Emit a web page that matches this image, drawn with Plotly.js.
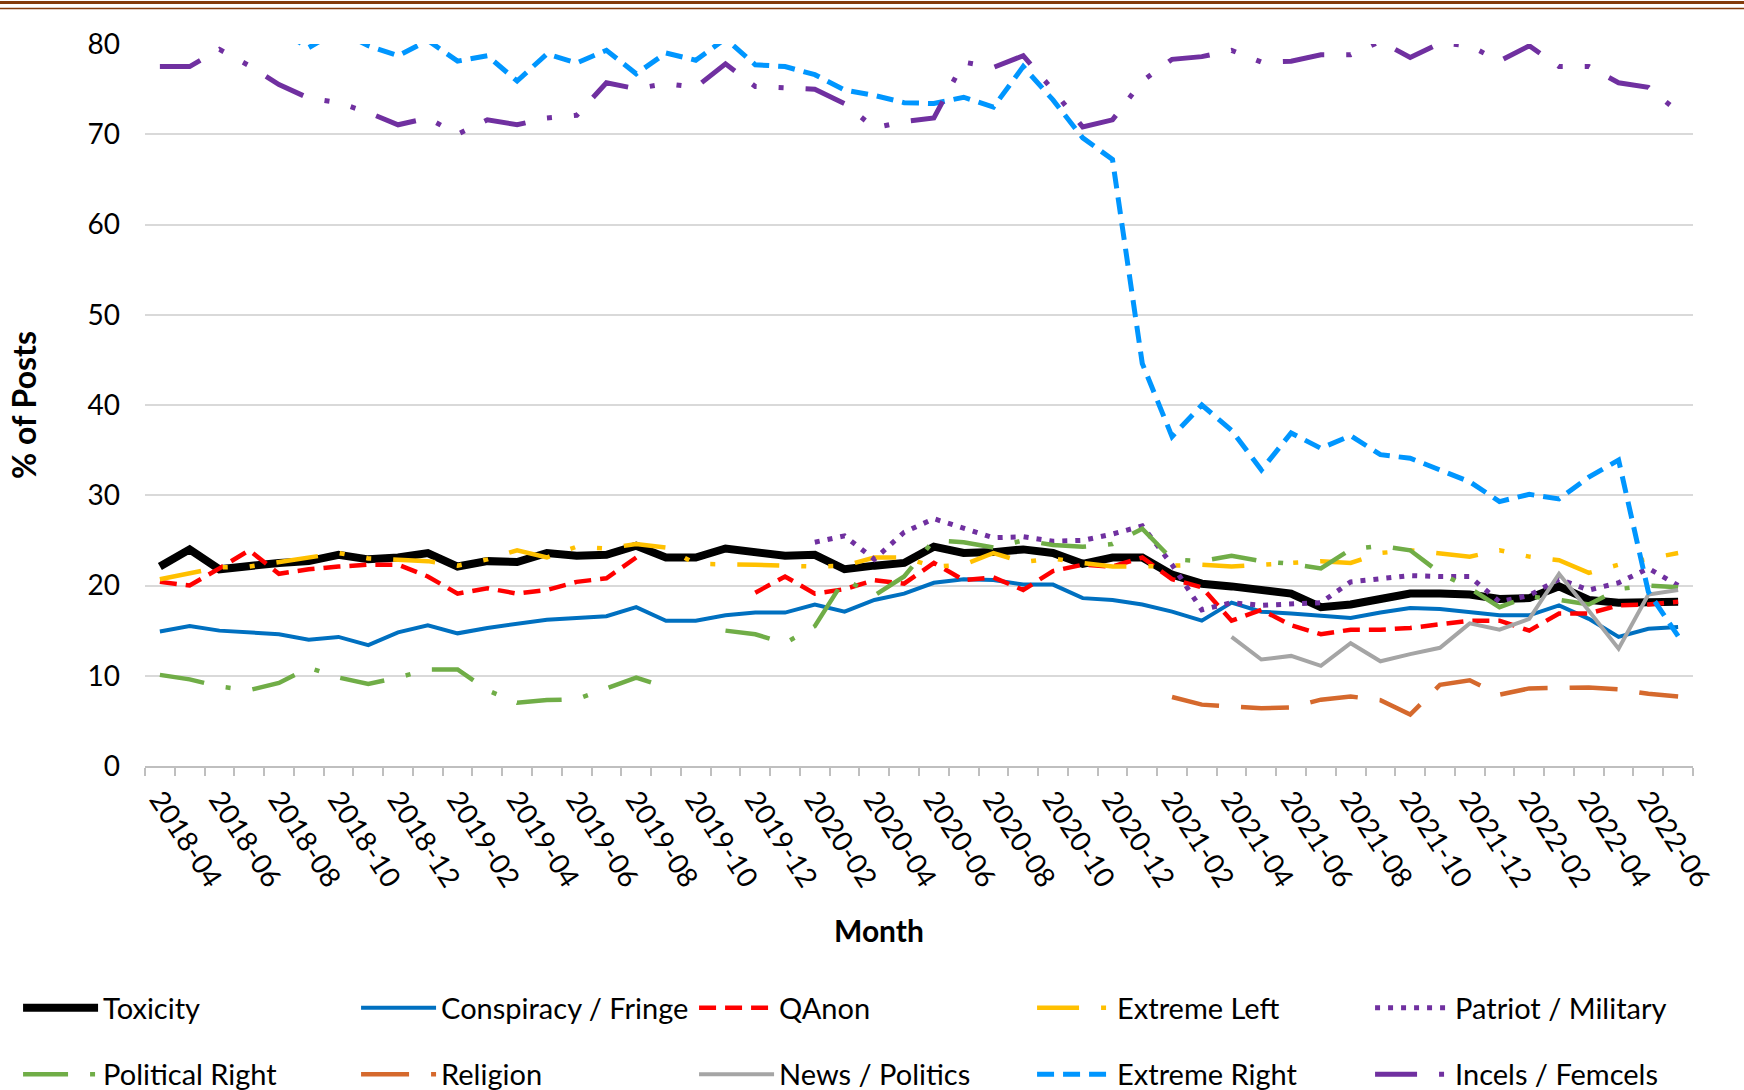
<!DOCTYPE html>
<html>
<head>
<meta charset="utf-8">
<script src="https://cdn.plot.ly/plotly-3.0.1.min.js"></script>
<style>html,body{margin:0;padding:0;background:#fff;}</style>
</head>
<body>
<div id="chart" style="width:1744px;height:1090px"></div>
<script>
// monthly categories, 2018-04 .. 2022-07
const months = [
  '2018-04','2018-05','2018-06','2018-07','2018-08','2018-09','2018-10','2018-11','2018-12',
  '2019-01','2019-02','2019-03','2019-04','2019-05','2019-06','2019-07','2019-08','2019-09','2019-10','2019-11','2019-12',
  '2020-01','2020-02','2020-03','2020-04','2020-05','2020-06','2020-07','2020-08','2020-09','2020-10','2020-11','2020-12',
  '2021-01','2021-02','2021-03','2021-04','2021-05','2021-06','2021-07','2021-08','2021-09','2021-10','2021-11','2021-12',
  '2022-01','2022-02','2022-03','2022-04','2022-05','2022-06','2022-07'
];

// labels shown on the x axis (every second month)
const tickLabels = [
  '2018-04','2018-06','2018-08','2018-10','2018-12','2019-02','2019-04','2019-06','2019-08','2019-10','2019-12',
  '2020-02','2020-04','2020-06','2020-08','2020-10','2020-12','2021-02','2021-04','2021-06','2021-08','2021-10','2021-12',
  '2022-02','2022-04','2022-06'
];

// % of posts per month
const toxicity = [22.1,24.0,21.8,22.2,22.5,22.7,23.4,22.9,23.1,23.6,22.1,22.7,22.6,23.6,23.3,23.4,24.4,23.1,23.1,24.1,
  23.7,23.3,23.4,21.8,22.2,22.5,24.3,23.6,23.7,24.0,23.6,22.4,23.1,23.1,21.2,20.2,19.9,19.6,19.1,17.6,
  17.9,18.5,19.1,19.1,19.0,18.5,18.6,19.9,18.4,18.1,18.2,18.2];

const conspiracy = [14.9,15.5,15.0,14.8,14.6,14.0,14.3,13.4,14.8,15.6,14.7,15.3,15.8,16.2,16.4,16.6,17.6,16.1,16.1,16.7,
  17.0,17.0,17.9,17.1,18.4,19.1,20.3,20.7,20.6,20.1,20.1,18.6,18.4,17.9,17.1,16.1,18.1,17.1,16.9,16.7,
  16.4,17.0,17.5,17.4,17.0,16.7,16.7,17.8,16.3,14.3,15.2,15.4];

const qanon = [20.4,20.0,21.9,23.9,21.3,21.8,22.1,22.3,22.3,21.0,19.1,19.7,19.1,19.5,20.4,20.8,23.1,null,null,null,
  19.2,21.0,19.1,19.6,20.6,20.2,22.5,20.6,20.9,19.5,21.6,22.3,22.1,23.1,20.7,19.8,16.1,17.3,15.6,14.6,
  15.1,15.1,15.3,15.7,16.1,16.1,15.0,16.9,16.9,17.8,17.9,18.2];

const extremeLeft = [20.7,21.3,22.0,22.1,22.6,23.1,23.6,23.0,22.9,22.7,22.2,22.9,23.9,23.1,24.3,24.1,24.6,24.2,22.4,22.4,
  22.3,22.2,22.1,22.2,23.1,23.1,22.1,22.3,23.6,22.6,23.0,22.5,22.1,22.1,22.2,22.3,22.1,22.3,22.6,22.7,
  22.5,23.6,23.9,23.6,23.2,23.9,23.2,22.8,21.4,22.3,23.0,23.6];

const patriot = [null,null,null,null,null,null,null,null,null,null,null,null,null,null,null,null,null,null,null,null,
  null,null,24.8,25.5,22.9,25.9,27.4,26.4,25.3,25.4,24.9,25.0,25.7,26.6,22.3,17.3,18.1,17.8,17.9,18.1,
  20.4,20.8,21.1,21.0,21.0,18.2,18.9,20.7,19.5,20.3,21.9,20.0];

const politicalRight = [10.1,9.6,8.8,8.4,9.2,10.9,9.8,9.1,9.8,10.7,10.7,8.4,7.0,7.3,7.4,8.6,9.8,8.7,null,15.0,
  14.6,13.6,15.5,20.7,18.9,21.0,25.0,24.8,24.2,25.0,24.5,24.3,24.6,26.3,22.9,22.7,23.3,22.7,22.4,21.9,
  24.0,24.4,23.9,21.4,19.7,17.6,18.8,18.4,17.9,19.6,20.0,19.8];

const religion = [null,null,null,null,null,null,null,null,null,null,null,null,null,null,null,null,null,null,null,null,
  null,null,null,null,null,null,null,null,null,null,null,null,null,null,7.65,6.8,6.6,6.4,6.5,7.35,
  7.7,7.3,5.7,9.0,9.5,7.9,8.6,8.6,8.7,8.5,8.0,7.7];

const newsPolitics = [null,null,null,null,null,null,null,null,null,null,null,null,null,null,null,null,null,null,null,null,
  null,null,null,null,null,null,null,null,null,null,null,null,null,null,null,null,14.3,11.8,12.2,11.1,
  13.6,11.6,12.4,13.1,15.8,15.1,16.3,21.3,17.2,13.0,19.0,19.5];

// the first months run above the 80 % axis limit and are cut off in the original
const extremeRight = [83.0,82.5,82.0,82.5,81.5,79.6,81.5,79.8,78.7,80.4,78.1,78.7,75.9,78.9,77.9,79.3,76.7,79.0,78.2,80.6,
  77.7,77.5,76.6,74.9,74.3,73.5,73.4,74.1,73.0,77.5,73.8,69.6,67.2,44.6,36.5,40.0,37.2,32.8,36.9,35.2,
  36.6,34.5,34.1,32.8,31.5,29.3,30.1,29.6,32.0,33.9,19.3,14.4];

const incels = [77.5,77.5,79.4,77.6,75.5,74.0,73.5,72.4,71.05,71.8,70.0,71.6,71.05,71.8,72.1,75.7,75.05,75.6,75.2,77.8,
  75.3,75.1,75.0,73.4,70.7,71.4,71.8,78.0,77.4,78.7,74.9,70.8,71.6,75.9,78.3,78.6,79.3,78.0,78.1,78.8,
  78.8,80.3,78.5,80.1,79.8,78.1,79.8,77.5,77.5,75.7,75.2,72.5];

const FONT = 'Lato, "Open Sans", sans-serif';

function series(name, y, color, width, dash, legend) {
    return {
        x: months,
        y: y,
        name: name,
        type: 'scatter',
        mode: 'lines',
        connectgaps: false,
        legend: legend,
        line: {color: color, width: width, dash: dash}
    };
}

const longDashDotDot = '42px,22px,5px,22px,5px,22px';

let traces = [
    series('Toxicity', toxicity, '#000000', 8, 'solid', 'legend'),
    series('Conspiracy / Fringe', conspiracy, '#0070C0', 4, 'solid', 'legend'),
    series('QAnon', qanon, '#FF0000', 4.5, '17px,9px', 'legend'),
    series('Extreme Left', extremeLeft, '#FFC000', 4.5, longDashDotDot, 'legend'),
    series('Patriot / Military', patriot, '#7030A0', 5, '5px,8px', 'legend'),
    series('Political Right', politicalRight, '#70AD47', 4.5, '45px,22px,5px,22px', 'legend2'),
    series('Religion', religion, '#D5692D', 4.5, '48px,22px', 'legend2'),
    series('News / Politics', newsPolitics, '#A5A5A5', 4, 'solid', 'legend2'),
    series('Extreme Right', extremeRight, '#0096FF', 5, '17px,9px', 'legend2'),
    series('Incels / Femcels', incels, '#7030A0', 5, longDashDotDot, 'legend2')
];

// every month gets a tick mark, only every second one a label
let tickText = months.map(m => tickLabels.includes(m) ? m : '');

let legendBase = {
    orientation: 'h',
    xanchor: 'left',
    x: -0.082,
    yanchor: 'middle',
    entrywidth: 248,
    entrywidthmode: 'pixels',
    itemwidth: 75,
    font: {family: FONT, size: 29, color: '#000'},
    bgcolor: 'rgba(0,0,0,0)',
    traceorder: 'normal'
};

let layout = {
    width: 1744,
    height: 1090,
    margin: {l: 145, r: 51, t: 44, b: 324, autoexpand: false},
    paper_bgcolor: '#fff',
    plot_bgcolor: '#fff',
    font: {family: FONT, size: 29, color: '#000'},
    showlegend: true,
    legend: Object.assign({}, legendBase, {y: -0.335}),
    legend2: Object.assign({}, legendBase, {y: -0.427}),
    xaxis: {
        type: 'category',
        range: [-0.5, months.length - 0.5],
        tickmode: 'array',
        tickvals: months,
        ticktext: tickText,
        tickson: 'boundaries',
        ticks: 'outside',
        ticklen: 8,
        tickwidth: 2,
        tickcolor: '#BFBFBF',
        tickangle: 57,
        ticklabelstandoff: 4,
        tickfont: {family: FONT, size: 28, color: '#000'},
        showline: true,
        linecolor: '#BFBFBF',
        linewidth: 2,
        showgrid: false,
        zeroline: false,
        automargin: false
    },
    yaxis: {
        range: [0, 80],
        dtick: 10,
        tick0: 0,
        showgrid: true,
        gridcolor: '#D9D9D9',
        gridwidth: 2,
        zeroline: false,
        showline: false,
        ticks: '',
        ticklabelstandoff: 24,
        tickfont: {family: FONT, size: 28, color: '#000'},
        automargin: false,
        title: {text: '<b>% of Posts</b>', font: {family: FONT, size: 32, color: '#000'}, standoff: 41}
    },
    // x axis title sits left of the plot centre in the original, so it is placed by hand
    annotations: [
        {text: '<b>Month</b>', xref: 'paper', yref: 'paper', x: 0.474, y: -0.2273,
         xanchor: 'center', yanchor: 'middle', showarrow: false,
         font: {family: FONT, size: 30, color: '#000'}}
    ],
    shapes: [
        {type: 'line', xref: 'paper', yref: 'paper', x0: -0.2, x1: 1.2, y0: 1.0575, y1: 1.0575,
         line: {color: '#843C0C', width: 3}},
        {type: 'line', xref: 'paper', yref: 'paper', x0: -0.2, x1: 1.2, y0: 1.049, y1: 1.049,
         line: {color: '#843C0C', width: 1.5}}
    ]
};

Plotly.newPlot('chart', traces, layout, {displayModeBar: false, staticPlot: true});
</script>
</body>
</html>
